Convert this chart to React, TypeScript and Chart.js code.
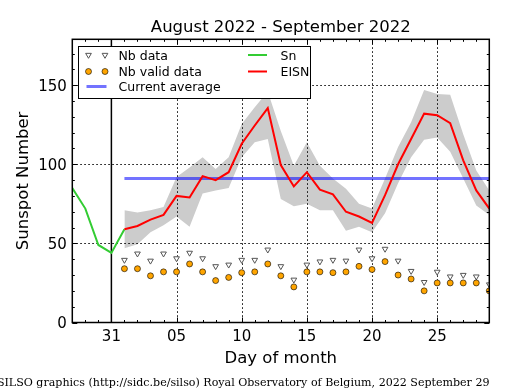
import React, { useEffect, useRef } from 'react';
import { Chart, registerables } from 'chart.js';

Chart.register(...registerables);

// ---- texts ----
const TITLE = 'August 2022 - September 2022';
const X_LABEL = 'Day of month';
const Y_LABEL = 'Sunspot Number';
const FOOTER = 'SILSO graphics (http://sidc.be/silso) Royal Observatory of Belgium, 2022 September 29';

// ---- axes (x = day offset from Aug 31) ----
const X_MIN = -3;
const X_MAX = 29;
const Y_MIN = 0;
const Y_MAX = 179;
const X_TICKS = [0, 5, 10, 15, 20, 25];
const X_TICK_LABELS = ['31', '05', '10', '15', '20', '25'];
const Y_TICKS = [0, 50, 100, 150];
const Y_TICK_LABELS = ['0', '50', '100', '150'];
const MONTH_BOUNDARY = 0; // Aug 31

// ---- data ----
const SN_DAYS = [-3, -2, -1, 0, 1];
const SN_VALUES = [85, 72, 49, 44, 59];

const SEP_DAYS = [1, 2, 3, 4, 5, 6, 7, 8, 9, 10, 11, 12, 13, 14, 15, 16, 17, 18, 19, 20, 21, 22, 23, 24, 25, 26, 27, 28, 29];
const EISN = [59, 61, 65, 68, 80, 79, 92.5, 90, 95, 113, 124.5, 135.5, 99.5, 86, 95, 84, 81, 70, 67, 63, 80.5, 100, 116, 132, 131, 126, 102.5, 83.5, 72];
const EISN_UPPER = [71, 69.5, 71, 73, 92, 98, 104.5, 97, 104.5, 125.5, 136, 146, 121, 99, 114, 99, 91, 84.5, 75, 72, 91, 111, 126.5, 147, 144.5, 144, 119, 96, 83.5];
const EISN_LOWER = [47, 49.5, 57, 61.5, 67, 60.5, 81.5, 83.5, 85, 104.5, 114, 116, 78, 73.5, 75, 71, 71, 58, 60.5, 57, 69, 88, 104.5, 115.5, 117, 108, 91, 74, 68];
const NB_DATA = [39.5, 43.5, 39, 43.5, 40.5, 44, 40.5, 35.5, 36.5, 39.5, 39.5, 46, 35.5, 27, 36.5, 38.5, 39.5, 39, 46, 40.5, 46.5, 39, 32.5, 25.5, 32, 29, 30, 29, 24];
const NB_VALID = [34, 34, 29.5, 32, 32, 37, 32, 26.5, 28.5, 31.5, 32, 37, 29.5, 22.5, 32, 32, 31.5, 32, 35.5, 33.5, 38.5, 30, 27.5, 20, 25, 25, 25, 25, 20];

const AVG_DAYS = [1, 29];
const AVG_VALUE = 91;

// ---- styles ----
const FONT = "'DejaVu Sans', sans-serif";
const SERIF = "'DejaVu Serif', serif";
const C_BAND = '#cccccc';
const C_AVG = 'rgba(0,0,255,0.55)';
const C_SN = '#33cc33';
const C_EISN = '#ff0000';
const C_TRI_EDGE = '#555555';
const C_DOT = '#ffa500';

const pts = (xs: number[], ys: number[]) => xs.map((x, i) => ({ x, y: ys[i] }));

function drawTri(ctx: CanvasRenderingContext2D, x: number, y: number, r: number) {
  ctx.beginPath();
  let a = Math.PI;
  ctx.moveTo(x + Math.sin(a) * r, y - Math.cos(a) * r);
  a += (2 * Math.PI) / 3;
  ctx.lineTo(x + Math.sin(a) * r, y - Math.cos(a) * r);
  a += (2 * Math.PI) / 3;
  ctx.lineTo(x + Math.sin(a) * r, y - Math.cos(a) * r);
  ctx.closePath();
  ctx.fillStyle = '#ffffff';
  ctx.fill();
  ctx.strokeStyle = C_TRI_EDGE;
  ctx.lineWidth = 1;
  ctx.stroke();
}

function drawDot(ctx: CanvasRenderingContext2D, x: number, y: number, r: number) {
  ctx.beginPath();
  ctx.arc(x, y, r, 0, Math.PI * 2);
  ctx.fillStyle = C_DOT;
  ctx.fill();
  ctx.strokeStyle = 'rgba(0,0,0,0.75)';
  ctx.lineWidth = 0.8;
  ctx.stroke();
}

const decor = {
  id: 'decor',
  afterDatasetDraw(chart: any, args: any) {
    if (args.index !== 1) return;
    const { ctx, chartArea: a, scales } = chart;
    const xs = scales.x, ys = scales.y;
    ctx.save();
    ctx.strokeStyle = '#000';
    ctx.lineWidth = 1;
    ctx.setLineDash([1.5, 2.5]);
    X_TICKS.forEach((v) => {
      if (v === MONTH_BOUNDARY) return;
      const px = Math.round(xs.getPixelForValue(v)) + 0.5;
      ctx.beginPath();
      ctx.moveTo(px, a.top);
      ctx.lineTo(px, a.bottom);
      ctx.stroke();
    });
    Y_TICKS.forEach((v) => {
      if (v === Y_MIN) return;
      const py = Math.round(ys.getPixelForValue(v)) + 0.5;
      ctx.beginPath();
      ctx.moveTo(a.left, py);
      ctx.lineTo(a.right, py);
      ctx.stroke();
    });
    ctx.setLineDash([]);
    const bx = xs.getPixelForValue(MONTH_BOUNDARY);
    ctx.lineWidth = 1.5;
    ctx.beginPath();
    ctx.moveTo(bx, a.top);
    ctx.lineTo(bx, a.bottom);
    ctx.stroke();
    ctx.restore();
  },
  afterDatasetsDraw(chart: any) {
    const { ctx, chartArea: a, scales } = chart;
    const xs = scales.x, ys = scales.y;
    ctx.save();
    ctx.strokeStyle = '#000';
    ctx.lineWidth = 1;
    for (let d = X_MIN; d <= X_MAX; d++) {
      const major = X_TICKS.includes(d);
      const len = major ? 5 : 2.5;
      const px = Math.round(xs.getPixelForValue(d)) + 0.5;
      ctx.beginPath();
      ctx.moveTo(px, a.bottom);
      ctx.lineTo(px, a.bottom - len);
      ctx.moveTo(px, a.top);
      ctx.lineTo(px, a.top + len);
      ctx.stroke();
    }
    for (let v = Y_MIN; v <= Y_MAX; v += 10) {
      const major = Y_TICKS.includes(v);
      const len = major ? 5 : 2.5;
      const py = Math.round(ys.getPixelForValue(v)) + 0.5;
      ctx.beginPath();
      ctx.moveTo(a.left, py);
      ctx.lineTo(a.left + len, py);
      ctx.moveTo(a.right, py);
      ctx.lineTo(a.right - len, py);
      ctx.stroke();
    }
    ctx.lineWidth = 1.5;
    ctx.strokeRect(a.left, a.top, a.right - a.left, a.bottom - a.top);

    ctx.fillStyle = '#000';
    ctx.font = `15px ${FONT}`;
    ctx.textAlign = 'center';
    ctx.textBaseline = 'alphabetic';
    X_TICKS.forEach((v, i) => {
      ctx.fillText(X_TICK_LABELS[i], xs.getPixelForValue(v), a.bottom + 18.5);
    });
    ctx.textAlign = 'right';
    Y_TICKS.forEach((v, i) => {
      ctx.fillText(Y_TICK_LABELS[i], a.left - 5.5, ys.getPixelForValue(v) + 5.5);
    });

    const cx = (a.left + a.right) / 2;
    ctx.font = `16.5px ${FONT}`;
    ctx.textAlign = 'center';
    ctx.fillText(TITLE, cx, 32);
    ctx.fillText(X_LABEL, cx, 362.5);
    ctx.save();
    ctx.translate(27.5, (a.top + a.bottom) / 2);
    ctx.rotate(-Math.PI / 2);
    ctx.fillText(Y_LABEL, 0, 0);
    ctx.restore();

    ctx.font = `11.07px ${SERIF}`;
    ctx.textAlign = 'right';
    ctx.fillText(FOOTER, 489.5, 385.5);

    const L = 78.5, T = 46.5, R = 310.5, B = 98.5;
    ctx.fillStyle = '#fff';
    ctx.fillRect(L, T, R - L, B - T);
    ctx.strokeStyle = '#000';
    ctx.lineWidth = 1;
    ctx.strokeRect(L, T, R - L, B - T);
    const rows = [55, 71.5, 86.5];
    drawTri(ctx, 88.5, rows[0], 3.3);
    drawTri(ctx, 105, rows[0], 3.3);
    drawDot(ctx, 88.5, rows[1], 3);
    drawDot(ctx, 105, rows[1], 3);
    ctx.strokeStyle = C_AVG;
    ctx.lineWidth = 3;
    ctx.beginPath();
    ctx.moveTo(86.5, rows[2]);
    ctx.lineTo(106.5, rows[2]);
    ctx.stroke();
    ctx.strokeStyle = C_SN;
    ctx.lineWidth = 2;
    ctx.beginPath();
    ctx.moveTo(248, rows[0]);
    ctx.lineTo(267, rows[0]);
    ctx.stroke();
    ctx.strokeStyle = C_EISN;
    ctx.beginPath();
    ctx.moveTo(248, rows[1]);
    ctx.lineTo(267, rows[1]);
    ctx.stroke();
    ctx.fillStyle = '#000';
    ctx.font = `12.5px ${FONT}`;
    ctx.textAlign = 'left';
    const off = 4.5;
    ctx.fillText('Nb data', 118.5, rows[0] + off);
    ctx.fillText('Nb valid data', 118.5, rows[1] + off);
    ctx.fillText('Current average', 118.5, rows[2] + off);
    ctx.fillText('Sn', 280.5, rows[0] + off);
    ctx.fillText('EISN', 280.5, rows[1] + off);
    ctx.restore();
  },
};

export default function App() {
  const ref = useRef<HTMLCanvasElement>(null);
  useEffect(() => {
    if (!ref.current) return;
    const chart = new Chart(ref.current, {
      type: 'line',
      data: {
        datasets: [
          {
            label: 'lower',
            data: pts(SEP_DAYS, EISN_LOWER),
            borderWidth: 0,
            borderColor: 'rgba(0,0,0,0)',
            pointRadius: 0,
            fill: false,
            order: 11,
          },
          {
            label: 'upper',
            data: pts(SEP_DAYS, EISN_UPPER),
            borderWidth: 0,
            borderColor: 'rgba(0,0,0,0)',
            backgroundColor: C_BAND,
            pointRadius: 0,
            fill: '-1',
            order: 10,
          },
          {
            label: 'Current average',
            data: pts(AVG_DAYS, [AVG_VALUE, AVG_VALUE]),
            borderColor: C_AVG,
            borderWidth: 3,
            pointRadius: 0,
            fill: false,
            order: 5,
          },
          {
            label: 'Sn',
            data: pts(SN_DAYS, SN_VALUES),
            borderColor: C_SN,
            borderWidth: 2,
            pointRadius: 0,
            fill: false,
            order: 4,
          },
          {
            label: 'EISN',
            data: pts(SEP_DAYS, EISN),
            borderColor: C_EISN,
            borderWidth: 2,
            pointRadius: 0,
            fill: false,
            order: 3,
          },
          {
            label: 'Nb data',
            data: pts(SEP_DAYS, NB_DATA),
            showLine: false,
            pointStyle: 'triangle',
            rotation: 180,
            pointRadius: 3.3,
            pointBackgroundColor: '#ffffff',
            pointBorderColor: C_TRI_EDGE,
            pointBorderWidth: 1,
            order: 2,
          },
          {
            label: 'Nb valid data',
            data: pts(SEP_DAYS, NB_VALID),
            showLine: false,
            pointStyle: 'circle',
            pointRadius: 3,
            pointBackgroundColor: C_DOT,
            pointBorderColor: 'rgba(0,0,0,0.75)',
            pointBorderWidth: 0.8,
            order: 1,
          },
        ],
      } as any,
      options: {
        animation: false,
        responsive: false,
        devicePixelRatio: 1,
        layout: { padding: { left: 72.3, top: 39.3, right: 25.7, bottom: 67.5 } },
        scales: {
          x: { type: 'linear', min: X_MIN, max: X_MAX, display: false },
          y: { type: 'linear', min: Y_MIN, max: Y_MAX, display: false },
        },
        plugins: {
          legend: { display: false },
          title: { display: false },
          tooltip: { enabled: false },
        },
        elements: { line: { tension: 0 } },
      } as any,
      plugins: [decor],
    });
    return () => chart.destroy();
  }, []);
  return (
    <div style={{ position: 'absolute', left: 0, top: 0, width: 515, height: 390, background: '#fff' }}>
      <canvas ref={ref} width={515} height={390} style={{ width: 515, height: 390 }} />
    </div>
  );
}
